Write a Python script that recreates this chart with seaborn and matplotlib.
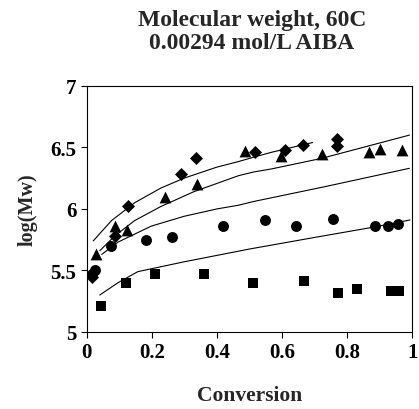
import matplotlib
matplotlib.use("Agg")
import matplotlib.pyplot as plt
import seaborn as sns

# measured points (conversion, log Mw)
diamond_x = [0.017, 0.088, 0.127, 0.29, 0.337, 0.518, 0.608, 0.663, 0.77, 0.77]
diamond_y = [5.45, 5.78, 6.02, 6.28, 6.41, 6.46, 6.48, 6.52, 6.57, 6.51]

triangle_x = [0.030, 0.086, 0.124, 0.239, 0.338, 0.486, 0.598, 0.724, 0.866, 0.90, 0.967]
triangle_y = [5.63, 5.86, 5.83, 6.10, 6.20, 6.47, 6.43, 6.45, 6.46, 6.49, 6.48]

circle_x = [0.017, 0.025, 0.076, 0.181, 0.262, 0.42, 0.549, 0.642, 0.757, 0.886, 0.925, 0.957]
circle_y = [5.47, 5.50, 5.70, 5.75, 5.77, 5.86, 5.91, 5.86, 5.92, 5.86, 5.86, 5.88]

square_x = [0.043, 0.122, 0.211, 0.361, 0.511, 0.668, 0.772, 0.83, 0.935, 0.96]
square_y = [5.21, 5.40, 5.47, 5.47, 5.40, 5.41, 5.32, 5.35, 5.33, 5.33]

# model curves
curve1_x = [0.020, 0.076, 0.147, 0.228, 0.299, 0.40, 0.466, 0.512, 0.567, 0.694]
curve1_y = [5.74, 5.905, 6.05, 6.17, 6.25, 6.34, 6.385, 6.42, 6.46, 6.54]
curve2_x = [0.040, 0.086, 0.147, 0.228, 0.329, 0.466, 0.512, 0.567, 0.72, 0.991]
curve2_y = [5.66, 5.78, 5.905, 6.02, 6.14, 6.27, 6.30, 6.325, 6.41, 6.60]
curve3_x = [0.046, 0.096, 0.198, 0.299, 0.40, 0.466, 0.512, 0.73, 0.991]
curve3_y = [5.63, 5.73, 5.86, 5.94, 6.00, 6.03, 6.06, 6.18, 6.33]
curve4_x = [0.040, 0.096, 0.157, 0.299, 0.502, 0.704, 0.877, 0.993]
curve4_y = [5.30, 5.40, 5.49, 5.57, 5.675, 5.77, 5.85, 5.91]

sns.set_style("white")
plt.rcParams["font.family"] = ["Liberation Serif", "DejaVu Serif"]
plt.rcParams["font.weight"] = "bold"

fig = plt.figure(figsize=(4.19, 4.10), dpi=100)
ax = fig.add_axes([0.207, 0.188, 0.777, 0.600])

for cx, cy in [(curve1_x, curve1_y), (curve2_x, curve2_y),
               (curve3_x, curve3_y), (curve4_x, curve4_y)]:
    sns.lineplot(x=cx, y=cy, ax=ax, color="black", linewidth=0.8,
                 estimator=None, sort=True)

for px, py, mk, sz in [(diamond_x, diamond_y, "D", 44),
                       (triangle_x, triangle_y, "^", 72),
                       (circle_x, circle_y, "o", 62),
                       (square_x, square_y, "s", 56)]:
    sns.scatterplot(x=px, y=py, marker=mk, s=sz, color="black",
                    linewidth=0, ax=ax, zorder=3)

ax.set_xlim(0, 1)
ax.set_ylim(5, 7)
ax.set_xticks([0, 0.2, 0.4, 0.6, 0.8, 1])
ax.set_xticklabels(["0", "0.2", "0.4", "0.6", "0.8", "1"])
ax.set_yticks([5, 5.5, 6, 6.5, 7])
ax.set_yticklabels(["5", "5.5", "6", "6.5", "7"])
ax.tick_params(direction="out", length=4, width=0.8, labelsize=15,
               bottom=True, left=True, colors="black")
for sp in ax.spines.values():
    sp.set_color("black")
    sp.set_linewidth(0.8)

ax.set_xlabel("Conversion", fontsize=15.5, fontweight="bold", labelpad=16)
ax.set_ylabel("log(Mw)", fontsize=14.5, fontweight="bold", labelpad=9)
fig.text(0.601, 0.922, "Molecular weight, 60C\n0.00294 mol/L AIBA",
         ha="center", va="center", fontsize=17, fontweight="bold",
         linespacing=1.1)

fig.savefig("out.png", dpi=100)
